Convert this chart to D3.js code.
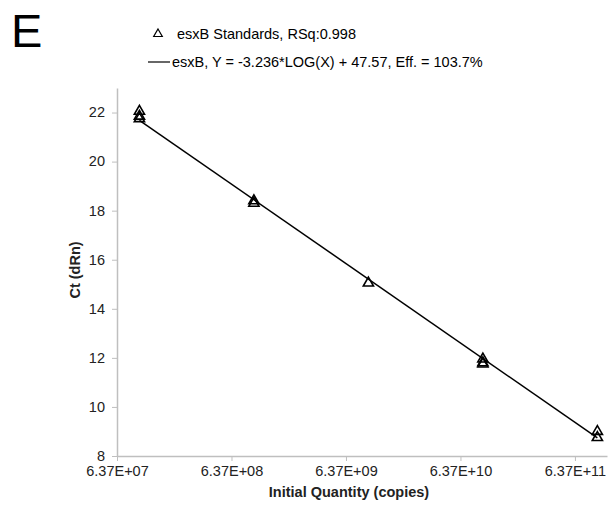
<!DOCTYPE html>
<html>
<head>
<meta charset="utf-8">
<script src="https://cdn.jsdelivr.net/npm/d3@7"></script>
<style>
  body { margin: 0; background: #fff; }
  text { font-family: "Liberation Sans", Arial, sans-serif; }
</style>
</head>
<body>
<div id="chart"></div>
<script>
// standards (copies) and measured Ct, replicates flattened
var stdQuantity = [1e8, 1e8, 1e8, 1e9, 1e9, 1e10, 1e11, 1e11, 1e11, 1e12, 1e12];
var stdCt = [22.05, 21.85, 21.75, 18.4, 18.3, 15.05, 11.95, 11.8, 11.75, 9.0, 8.75];

var fitSlope = -3.236;
var fitIntercept = 47.57;
var fitRange = [1e8, 1e12];

var xTickValues = [6.37e7, 6.37e8, 6.37e9, 6.37e10, 6.37e11];
var xTickLabels = ['6.37E+07', '6.37E+08', '6.37E+09', '6.37E+10', '6.37E+11'];
var yTickValues = [8, 10, 12, 14, 16, 18, 20, 22];

var legendLabels = ['esxB Standards, RSq:0.998', 'esxB, Y = -3.236*LOG(X) + 47.57, Eff. = 103.7%'];

window.onload = function(){

	var svg = d3.select('#chart').append('svg').attr('width', 609).attr('height', 508);

	var left = 117, right = 607, top = 88, bottom = 456;
	var fs = 14.5;

	var x = d3.scaleLog().domain([6.37e7, 6.37e7 * Math.pow(10, 4.28)]).range([left, right]);
	var y = d3.scaleLinear().domain([8, 23]).range([bottom, top]);

	// panel letter
	svg.append('text').attr('x', 11).attr('y', 47).attr('font-size', 47).attr('fill', '#000').text('E');

	// axes
	var xAxis = d3.axisBottom(x).tickValues(xTickValues)
		.tickFormat(function(d, i){ return xTickLabels[i]; }).tickSize(5).tickSizeOuter(0);
	var yAxis = d3.axisLeft(y).tickValues(yTickValues).tickSize(5).tickSizeOuter(0);

	var gx = svg.append('g').attr('transform', 'translate(0,' + bottom + ')').call(xAxis);
	var gy = svg.append('g').attr('transform', 'translate(' + left + ',0)').call(yAxis);

	[gx, gy].forEach(function(g){
		g.select('.domain').attr('stroke', '#bfbfbf').attr('stroke-width', 1.5);
		g.selectAll('.tick line').attr('stroke', '#bfbfbf').attr('stroke-width', 1);
		g.selectAll('.tick text').attr('fill', '#222').attr('font-size', fs)
			.attr('font-family', '"Liberation Sans", Arial, sans-serif');
	});
	gx.selectAll('.tick text').attr('y', 8).attr('dy', '0.8em');
	gy.selectAll('.tick text').attr('x', -12).attr('dy', '0.3em');

	// axis titles
	svg.append('text').attr('x', 349).attr('y', 497).attr('text-anchor', 'middle')
		.attr('font-size', fs).attr('font-weight', 'bold').attr('fill', '#222')
		.text('Initial Quantity (copies)');
	svg.append('text').attr('transform', 'translate(80,270) rotate(-90)').attr('text-anchor', 'middle')
		.attr('font-size', fs).attr('font-weight', 'bold').attr('fill', '#222')
		.text('Ct (dRn)');

	// fitted line
	var line = d3.line()
		.x(function(d){ return x(d); })
		.y(function(d){ return y(fitSlope * Math.log10(d) + fitIntercept); });
	svg.append('path').datum(fitRange).attr('d', line)
		.attr('fill', 'none').attr('stroke', '#000').attr('stroke-width', 1.5);

	// standards
	var tri = d3.symbol().type(d3.symbolTriangle).size(45);
	svg.selectAll('path.pt').data(stdQuantity).enter().append('path')
		.attr('class', 'pt')
		.attr('d', tri)
		.attr('transform', function(d, i){ return 'translate(' + x(d) + ',' + y(stdCt[i]) + ')'; })
		.attr('fill', 'none').attr('stroke', '#000').attr('stroke-width', 1.6);

	// legend
	var lg = svg.append('g');
	lg.append('path').attr('d', d3.symbol().type(d3.symbolTriangle).size(32))
		.attr('transform', 'translate(158,34)')
		.attr('fill', 'none').attr('stroke', '#000').attr('stroke-width', 1.2);
	lg.append('text').attr('x', 177).attr('y', 39).attr('font-size', fs).attr('fill', '#000').text(legendLabels[0]);
	lg.append('line').attr('x1', 148).attr('x2', 170).attr('y1', 62).attr('y2', 62)
		.attr('stroke', '#000').attr('stroke-width', 1.2);
	lg.append('text').attr('x', 172).attr('y', 67).attr('font-size', fs).attr('fill', '#000').text(legendLabels[1]);
}
</script>
</body>
</html>
